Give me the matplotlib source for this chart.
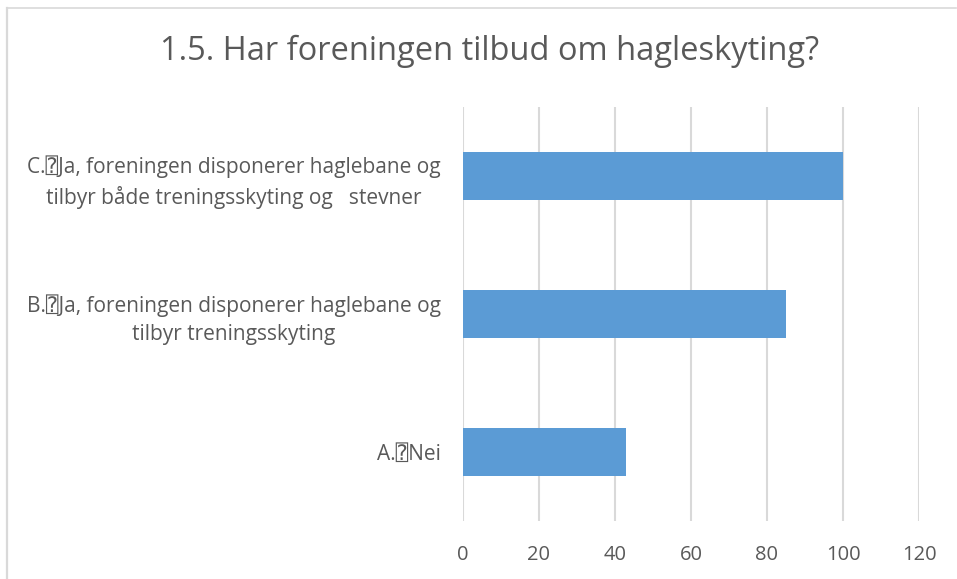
import matplotlib.pyplot as plt
from matplotlib.lines import Line2D

# data
categories = [
    "A.\u2370Nei",
    "B.\u2370Ja, foreningen disponerer haglebane og\ntilbyr treningsskyting",
    "C.\u2370Ja, foreningen disponerer haglebane og\ntilbyr både treningsskyting og   stevner",
]
values = [43, 85, 100]
xticks = [0, 20, 40, 60, 80, 100, 120]

TXT = "#595959"
BAR = "#5B9BD5"
GRID = "#D9D9D9"
FONTS = ["Open Sans", "DejaVu Sans", "DejaVu Sans Mono"]
plt.rcParams["font.family"] = FONTS

fig = plt.figure(figsize=(9.57, 5.79), dpi=100)
ax = fig.add_axes([463 / 957, 1 - 521 / 579, (919 - 463) / 957, (521 - 107) / 579])

y = list(range(len(categories)))
ax.barh(y, values, height=0.35, color=BAR, zorder=3)

ax.set_xlim(0, 120)
ax.set_ylim(-0.5, 2.5)
ax.set_xticks(xticks)
ax.set_xticklabels([str(t) for t in xticks], fontsize=14.5, color=TXT)
ax.set_yticks(y)
ax.set_yticklabels(categories, fontsize=15, color=TXT, ha="right",
                   multialignment="center", linespacing=1.4)
ax.tick_params(axis="both", length=0)
ax.tick_params(axis="x", pad=17)
ax.tick_params(axis="y", pad=16)
for s in ax.spines.values():
    s.set_visible(False)
ax.grid(axis="x", color=GRID, linewidth=1.5, zorder=0)

fig.text(490 / 957, 1 - 51 / 579, "1.5. Har foreningen tilbud om hagleskyting?",
         ha="center", va="center", fontsize=23.5, color=TXT)

# chart frame (left and top edges only visible)
fig.add_artist(Line2D([7 / 957, 7 / 957], [0, 1 - 8 / 579], transform=fig.transFigure,
                      color=GRID, linewidth=1.6))
fig.add_artist(Line2D([7 / 957, 956 / 957], [1 - 8 / 579, 1 - 8 / 579], transform=fig.transFigure,
                      color=GRID, linewidth=1.2))

fig.savefig("out.png", dpi=100)
